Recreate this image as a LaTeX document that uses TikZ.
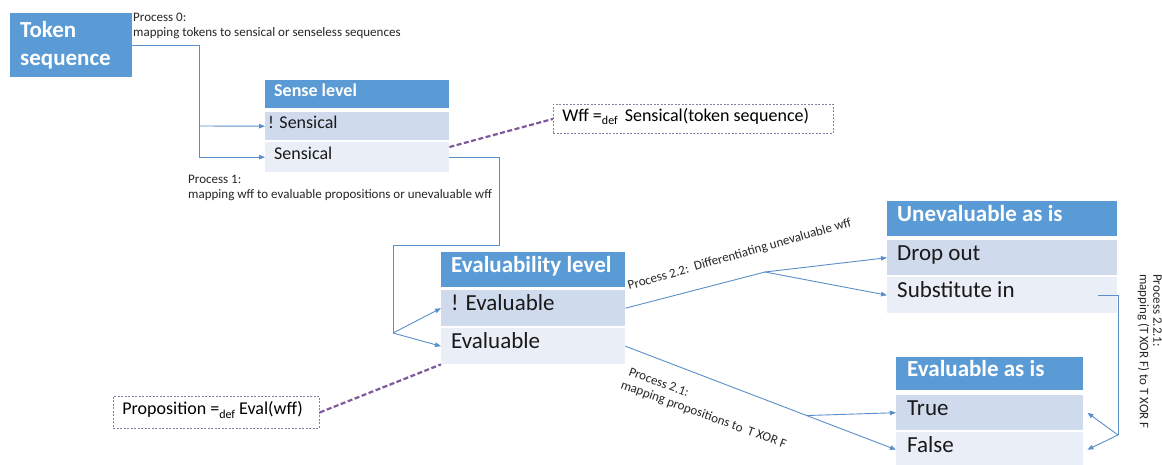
\documentclass[tikz,border=0pt]{standalone}
\usepackage{fontspec}
\setmainfont{Carlito}
\usetikzlibrary{arrows.meta,calc}
\definecolor{hdr}{HTML}{5B9BD5}
\definecolor{rowA}{HTML}{CFDAEC}
\definecolor{rowB}{HTML}{E9EEF7}
\definecolor{lnk}{HTML}{5B8FC9}
\definecolor{purp}{HTML}{7E5A9B}
\definecolor{boxp}{HTML}{8E7AA6}
\newcommand\fsz[2]{\fontsize{#1}{#2}\selectfont}
\newcommand\defsub{\raisebox{-3.5pt}{\fsz{12}{12}def}}
\begin{document}
\begin{tikzpicture}[x=1pt,y=-1pt,
  cell/.style={anchor=north west, inner xsep=9pt, inner ysep=0pt, align=flush left, text height=0.72em, text depth=0.22em},
  hcell/.style={cell, fill=hdr, text=white},
  acell/.style={cell, fill=rowA, text=black!90},
  bcell/.style={cell, fill=rowB, text=black!90},
  conn/.style={draw=lnk, line width=0.9pt},
  arr/.style={conn, -{Triangle[length=6pt,width=4.5pt]}},
  dlink/.style={draw=purp, line width=2.2pt, dash pattern=on 5pt off 2.5pt},
  dbox/.style={draw=boxp, line width=0.8pt, dash pattern=on 2pt off 1.5pt, inner xsep=9pt, inner ysep=0pt, anchor=north west, align=flush left, text height=0.72em, text depth=0.22em},
  lbl/.style={inner sep=0pt, align=flush left, text=black!85, font=\fsz{13}{15}}
]
\useasboundingbox (0,0) rectangle (1162,464);
\fill[white] (0,0) rectangle (1162,464);

% Token sequence
\node[anchor=north west, fill=hdr, text=white, font=\bfseries\fsz{23}{28}, inner xsep=10pt, inner ysep=0pt, text width=102pt, minimum height=64pt, align=flush left] (tok) at (10,13) {Token\\sequence};

% Sense level
\node[hcell, font=\bfseries\fsz{18}{22}, text width=166pt, minimum height=28pt] (slh) at (265,80) {Sense level};
\node[acell, font=\fsz{18}{22}, text width=166pt, minimum height=28pt] (nsens) at (265,112) {\hspace*{-6pt}! Sensical};
\node[bcell, font=\fsz{18}{22}, text width=166pt, minimum height=30pt] (sens) at (265,142) {Sensical};

% Evaluability level
\node[hcell, inner xsep=10pt, font=\bfseries\fsz{23}{27}, text width=164pt, minimum height=35pt] (elh) at (441,252) {Evaluability level};
\node[acell, inner xsep=10pt, font=\fsz{23}{27}, text width=164pt, minimum height=36pt] (neval) at (441,290) {! Evaluable};
\node[bcell, inner xsep=10pt, font=\fsz{23}{27}, text width=164pt, minimum height=36pt] (eval) at (441,328) {Evaluable};

% Unevaluable as is
\node[hcell, inner xsep=10pt, font=\bfseries\fsz{23}{27}, text width=210pt, minimum height=35pt] (uh) at (887,201) {Unevaluable as is};
\node[acell, inner xsep=10pt, font=\fsz{23}{27}, text width=210pt, minimum height=35pt] (drop) at (887,240) {Drop out};
\node[bcell, inner xsep=10pt, font=\fsz{23}{27}, text width=210pt, minimum height=36pt] (subst) at (887,277) {Substitute in};

% Evaluable as is
\node[hcell, inner xsep=11pt, font=\bfseries\fsz{23}{27}, text width=165pt, minimum height=33pt] (evh) at (896,357) {Evaluable as is};
\node[acell, inner xsep=11pt, font=\fsz{23}{27}, text width=165pt, minimum height=35pt] (true) at (896,395) {True};
\node[bcell, inner xsep=11pt, font=\fsz{23}{27}, text width=165pt, minimum height=35pt] (false) at (896,432) {False};

% definition boxes
\node[dbox, font=\fsz{18}{22}, text width=262pt, minimum height=29pt] (wff) at (553,104) {Wff =\defsub\hspace{7pt}Sensical(token sequence)};
\node[dbox, font=\fsz{18}{22}, text width=188pt, minimum height=32pt] (prop) at (113,396) {Proposition =\defsub\ Eval(wff)};

% labels
\node[lbl, anchor=north west] (l0) at (133,13) {Process 0:\\mapping tokens to sensical or senseless sequences};
\node[lbl, anchor=north west] (l1) at (188,175) {Process 1:\\mapping wff to evaluable propositions or unevaluable wff};
\node[lbl, anchor=base west, rotate=16] (l22) at (629,290) {Process 2.2:\ \ Differentiating unevaluable wff};
\node[lbl, anchor=north west, rotate=-20] (l21) at (628,366) {\hspace*{3pt}Process 2.1:\\mapping propositions to\ \ T XOR F};
\node[lbl, anchor=north west, rotate=-90, font=\fsz{13}{13.5}] (l221) at (1162,274) {Process 2.2.1:\\mapping (T XOR F) to T XOR F};

% Process 0
\coordinate (j0) at (199,126);
\draw[conn] (tok.east) -| (j0);
\draw[arr] (j0) -- (nsens.west);
\draw[arr] (j0) |- (sens.west);

% Process 1
\coordinate (p1a) at (499,245);
\coordinate (p1b) at (393,333);
\draw[conn] (sens.east) -| (p1a) -| (p1b);
\draw[arr] (p1b) -- (neval.west);
\draw[arr] (p1b) -- (eval.west);

% Process 2.2
\coordinate (p22) at (765,272);
\draw[conn] (neval.east) -- (p22);
\draw[arr] (p22) -- (drop.west);
\draw[arr] (p22) -- (subst.west);

% Process 2.1
\coordinate (p21) at ($(eval.east)!0.67!(false.west)$);
\draw[arr] (eval.east) -- (false.west);
\draw[arr] (p21) -- (true.west);

% Process 2.2.1
\coordinate (s221) at ($(subst.east)+(-19,0)$);
\coordinate (p221) at (1118,435);
\draw[conn] (s221) -| (p221);
\draw[arr] (p221) -- ($(true.east)+(4,0)$);
\draw[arr] (p221) -- ($(false.east)+(4,0)$);

% dashed links
\draw[dlink] ([yshift=-5pt]sens.north east) -- (wff.west);
\draw[dlink] (prop.east) -- (eval.south west);
\end{tikzpicture}
\end{document}
